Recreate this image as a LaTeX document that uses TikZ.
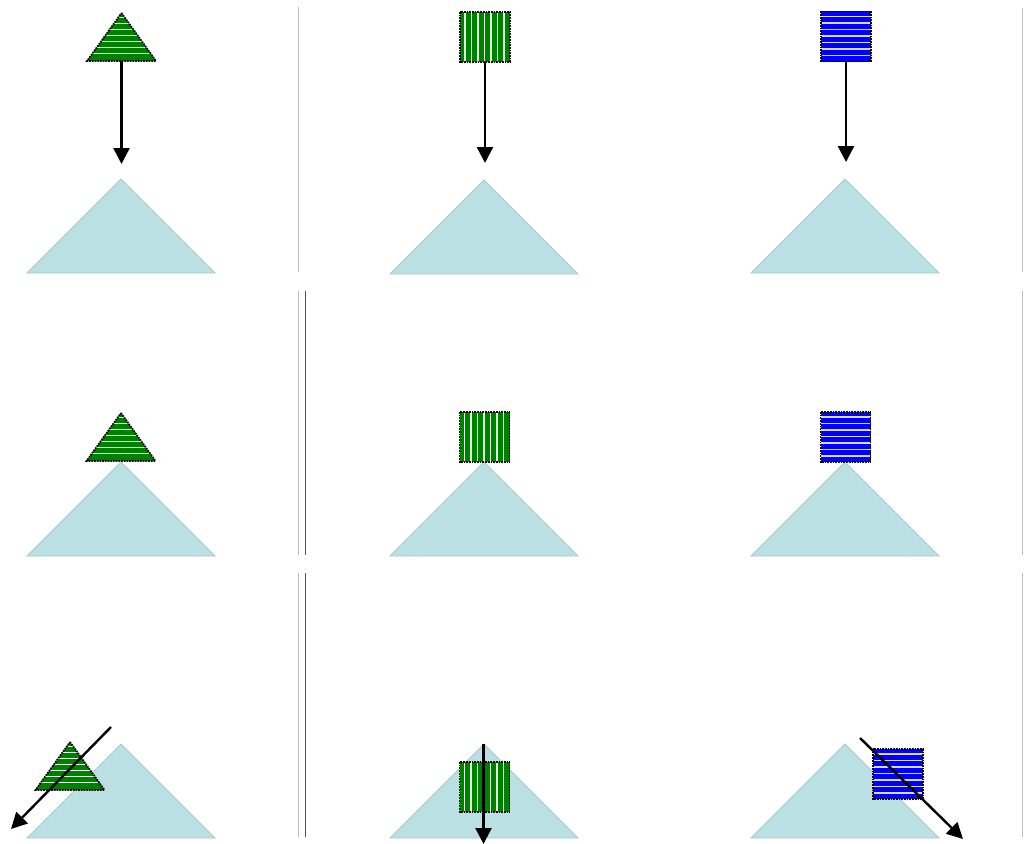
\documentclass[tikz,border=0pt]{standalone}
\usetikzlibrary{arrows.meta}
\definecolor{tri}{HTML}{BBE0E3}
\definecolor{triedge}{HTML}{A9C9CD}
\definecolor{gfill}{HTML}{008000}
\definecolor{bfill}{HTML}{0000FF}
\tikzset{
  big/.style={fill=tri, draw=triedge, line width=0.8pt},
  divlight/.style={draw=black!25, line width=1.6pt},
  divdark/.style={draw=black!68, line width=1pt},
  arr/.style={line width=2.4pt, -{Triangle[length=16pt,width=16pt]}},
  dotb/.style={draw=black, densely dotted, line width=1.7pt},
  gstripe/.style={draw=white!85!green, line width=1.5pt},
  bstripe/.style={draw=white!85!blue, line width=1.5pt},
}
\newcommand\bigtri[2]{\path[big] (#1,#2) -- ++(94,94) -- ++(-188,0) -- cycle;}
\newcommand\gtri[3]{%
  \begin{scope}[shift={(#2,#3)}]
    \fill[gfill] (0,0) -- (34.5,48) -- (-34.5,48) -- cycle;
    \begin{scope}
      \clip (0,0) -- (34.5,48) -- (-34.5,48) -- cycle;
      \foreach \yy in {4.5,10.5,16.5,22.5,28.5,34.5,40.5} \draw[gstripe] (-40,\yy) -- (40,\yy);
    \end{scope}
    \draw[dotb] (0,0) -- (34.5,48) -- (-34.5,48) -- cycle;
    \coordinate (#1) at (0,48);
  \end{scope}}
\newcommand\gsq[3]{%
  \begin{scope}[shift={(#2,#3)}]
    \fill[gfill] (0,0) rectangle (50,50);
    \foreach \xx in {5,11.5,18,24.5,31,37.5,44} \draw[gstripe] (\xx,0) -- (\xx,50);
    \draw[dotb] (0,0) rectangle (50,50);
    \coordinate (#1) at (25,50);
  \end{scope}}
\newcommand\bsq[3]{%
  \begin{scope}[shift={(#2,#3)}]
    \fill[bfill] (0,0) rectangle (50,50);
    \foreach \yy in {5,11.5,18,24.5,31,37.5,44} \draw[bstripe] (0,\yy) -- (50,\yy);
    \draw[dotb] (0,0) rectangle (50,50);
    \coordinate (#1) at (25,50);
  \end{scope}}
\begin{document}
\begin{tikzpicture}[x=1pt,y=-1pt]
\useasboundingbox (0,0) rectangle (1024,843);
% dividers
\draw[divlight] (298.5,7) -- (298.5,272);
\draw[divlight] (298.5,291) -- (298.5,555);
\draw[divdark] (305.5,291) -- (305.5,555);
\draw[divlight] (298.5,573) -- (298.5,837);
\draw[divdark] (305.5,573) -- (305.5,837);
\draw[divlight] (1022.5,8) -- (1022.5,272);
\draw[divlight] (1022.5,291) -- (1022.5,555);
\draw[divlight] (1022.5,573) -- (1022.5,837);
% big triangles
\bigtri{121}{179}
\bigtri{484}{180}
\bigtri{845}{179}
\bigtri{121}{462}
\bigtri{484}{462}
\bigtri{845}{462}
\bigtri{121}{744}
\bigtri{484}{744}
\bigtri{845}{744}
% row 1
\gtri{t1}{121.5}{13}
\coordinate (t1e) at (121.5,164);
\draw[arr] (t1) -- (t1e);
\gsq{g1}{460}{12}
\coordinate (g1e) at (485,163);
\draw[arr] (g1) -- (g1e);
\bsq{b1}{821}{11.5}
\coordinate (b1e) at (846,162);
\draw[arr] (b1) -- (b1e);
% row 2
\gtri{t2}{121}{413}
\gsq{g2}{459.5}{412}
\bsq{b2}{820.5}{412}
% row 3
\gtri{t3}{70}{742}
\coordinate (t3s) at (111,727);
\coordinate (t3e) at (11,829);
\draw[arr] (t3s) -- (t3e);
\gsq{g3}{459.5}{762}
\coordinate (g3s) at (483.5,744);
\coordinate (g3e) at (483.5,844);
\draw[arr] (g3s) -- (g3e);
\bsq{b3}{873}{749}
\coordinate (b3s) at (860,738);
\coordinate (b3e) at (963,839);
\draw[arr] (b3s) -- (b3e);
\end{tikzpicture}
\end{document}
